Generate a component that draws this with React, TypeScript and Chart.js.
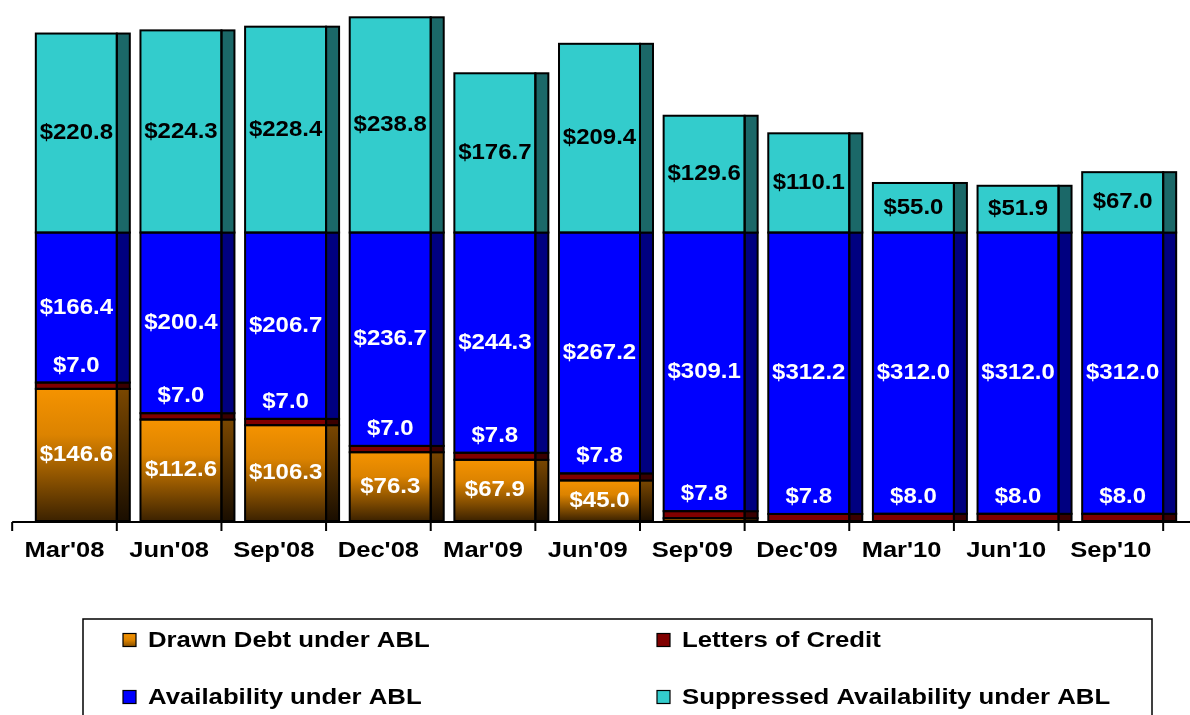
import React, { useEffect, useRef } from "react";
import { Chart, registerables } from "chart.js";

Chart.register(...registerables);

const categories = ["Mar'08", "Jun'08", "Sep'08", "Dec'08", "Mar'09", "Jun'09", "Sep'09", "Dec'09", "Mar'10", "Jun'10", "Sep'10"];
const drawnDebt = [146.6, 112.6, 106.3, 76.3, 67.9, 45.0, 3.1, 0, 0, 0, 0];
const lettersOfCredit = [7.0, 7.0, 7.0, 7.0, 7.8, 7.8, 7.8, 7.8, 8.0, 8.0, 8.0];
const availability = [166.4, 200.4, 206.7, 236.7, 244.3, 267.2, 309.1, 312.2, 312.0, 312.0, 312.0];
const suppressed = [220.8, 224.3, 228.4, 238.8, 176.7, 209.4, 129.6, 110.1, 55.0, 51.9, 67.0];
const seriesNames = ["Drawn Debt under ABL", "Letters of Credit", "Availability under ABL", "Suppressed Availability under ABL"];

const FONT = '"Liberation Sans", Arial, sans-serif';
const SIDE = 13;

const frontColors = ["#F39200", "#800000", "#0000FF", "#33CCCC"];
const sideColors = ["#6A3E00", "#3A0000", "#000080", "#1B6868"];
const labelColors = ["#FFFFFF", "#FFFFFF", "#FFFFFF", "#000000"];

function orangeGradient(ctx: CanvasRenderingContext2D, top: number, bottom: number) {
  const g = ctx.createLinearGradient(0, top, 0, bottom);
  g.addColorStop(0, "#F59300");
  g.addColorStop(0.35, "#DC8300");
  g.addColorStop(1, "#3C2200");
  return g;
}
function sideGradient(ctx: CanvasRenderingContext2D, top: number, bottom: number) {
  const g = ctx.createLinearGradient(0, top, 0, bottom);
  g.addColorStop(0, "#7A4700");
  g.addColorStop(1, "#1A0E00");
  return g;
}

const fmt = (v: number) => "$" + v.toFixed(1);

function stretchedText(ctx: CanvasRenderingContext2D, text: string, x: number, y: number, sx: number) {
  ctx.save();
  ctx.translate(x, y);
  ctx.scale(sx, 1);
  ctx.fillText(text, 0, 0);
  ctx.restore();
}

const depthPlugin = {
  id: "depth",
  afterDatasetsDraw(chart: any) {
    const ctx: CanvasRenderingContext2D = chart.ctx;
    ctx.save();
    chart.data.datasets.forEach((ds: any, di: number) => {
      const meta = chart.getDatasetMeta(di);
      meta.data.forEach((el: any, i: number) => {
        const v = ds.data[i];
        if (!v) return;
        const left = el.x - el.width / 2;
        const right = el.x + el.width / 2;
        const top = Math.min(el.y, el.base);
        const bottom = Math.max(el.y, el.base);
        ctx.fillStyle = di === 0 ? sideGradient(ctx, top, bottom) : sideColors[di];
        ctx.fillRect(right, top, SIDE, bottom - top);
        ctx.strokeStyle = "#000";
        ctx.lineWidth = 2;
        ctx.strokeRect(right, top, SIDE, bottom - top);
        ctx.strokeRect(left, top, right - left, bottom - top);
      });
    });
    // labels
    ctx.font = `bold 22px ${FONT}`;
    ctx.textAlign = "center";
    ctx.textBaseline = "middle";
    chart.data.datasets.forEach((ds: any, di: number) => {
      const meta = chart.getDatasetMeta(di);
      meta.data.forEach((el: any, i: number) => {
        const v = ds.data[i];
        if (!v) return;
        if (di === 0 && v < 10) return;
        ctx.fillStyle = labelColors[di];
        let y = (el.y + el.base) / 2;
        if (di === 1) y = el.y - 17;
        stretchedText(ctx, fmt(v), el.x, y, 1.09);
      });
    });
    ctx.restore();
  },
  afterDraw(chart: any) {
    const ctx: CanvasRenderingContext2D = chart.ctx;
    const xs = chart.scales.x;
    const ys = chart.scales.y;
    const meta = chart.getDatasetMeta(0);
    const n = categories.length;
    const catW = (xs.right - xs.left) / n;
    const barW = meta.data[0].width;
    const y0 = ys.getPixelForValue(0);
    ctx.save();
    // axis line and tick marks
    const ticks: number[] = [];
    ticks.push(xs.getPixelForValue(0) + barW / 2 - catW);
    for (let i = 0; i < n; i++) ticks.push(xs.getPixelForValue(i) + barW / 2);
    ctx.strokeStyle = "#000";
    ctx.lineWidth = 2;
    ctx.beginPath();
    ctx.moveTo(ticks[0], y0 + 1);
    ctx.lineTo(chart.width, y0 + 1);
    ticks.forEach((t) => {
      ctx.moveTo(t, y0 + 1);
      ctx.lineTo(t, y0 + 10);
    });
    ctx.stroke();

    // category labels
    ctx.font = `bold 22px ${FONT}`;
    ctx.fillStyle = "#000";
    ctx.textAlign = "center";
    ctx.textBaseline = "middle";
    for (let i = 0; i < n; i++) {
      const cx = (ticks[i] + ticks[i + 1]) / 2;
      stretchedText(ctx, categories[i], cx, y0 + 30, 1.16);
    }

    // legend
    const lx = 83, ly = 619, lr = 1152;
    ctx.lineWidth = 1.5;
    ctx.strokeRect(lx, ly, lr - lx, 140);
    const cols = [123, 657];
    const rows = [640, 697];
    ctx.textAlign = "left";
    [0, 1, 2, 3].forEach((di, k) => {
      const bx = cols[k % 2];
      const by = rows[Math.floor(k / 2)];
      const s = 13;
      ctx.fillStyle = di === 0 ? orangeGradient(ctx, by - s / 2, by + s / 2 + 6) : frontColors[di];
      ctx.fillRect(bx, by - s / 2, s, s);
      ctx.strokeStyle = "#000";
      ctx.lineWidth = 1.2;
      ctx.strokeRect(bx, by - s / 2, s, s);
      ctx.fillStyle = "#000";
      stretchedText(ctx, seriesNames[di], bx + 25, by + 1, 1.17);
    });
    ctx.restore();
  },
};

export default function App() {
  const ref = useRef<HTMLCanvasElement | null>(null);
  useEffect(() => {
    document.body.style.margin = "0";
    const canvas = ref.current!;
    const mk = (di: number, data: number[]) => ({
      label: seriesNames[di],
      data,
      backgroundColor:
        di === 0
          ? (c: any) => {
              const chart = c.chart;
              if (!chart.chartArea || c.type !== "data") return frontColors[0];
              const ys = chart.scales.y;
              const top = ys.getPixelForValue(c.raw);
              const bot = ys.getPixelForValue(0);
              return orangeGradient(chart.ctx, top, bot);
            }
          : frontColors[di],
      borderWidth: 0,
      categoryPercentage: 1,
      barPercentage: 0.774,
    });
    const chart = new Chart(canvas, {
      type: "bar",
      data: {
        labels: categories,
        datasets: [mk(0, drawnDebt), mk(1, lettersOfCredit), mk(2, availability), mk(3, suppressed)],
      },
      options: {
        animation: false,
        responsive: false,
        devicePixelRatio: 1,
        layout: { padding: { left: 24, right: 15, top: 0, bottom: 194 } },
        plugins: { legend: { display: false }, tooltip: { enabled: false } },
        scales: {
          x: {
            stacked: true,
            grid: { display: false, drawTicks: false },
            border: { display: false },
            ticks: { display: false },
          },
          y: {
            stacked: true,
            display: false,
            min: 0,
            max: 578,
          },
        },
      },
      plugins: [depthPlugin],
    } as any);
    return () => chart.destroy();
  }, []);
  return <canvas ref={ref} width={1190} height={715} style={{ display: "block" }} />;
}
